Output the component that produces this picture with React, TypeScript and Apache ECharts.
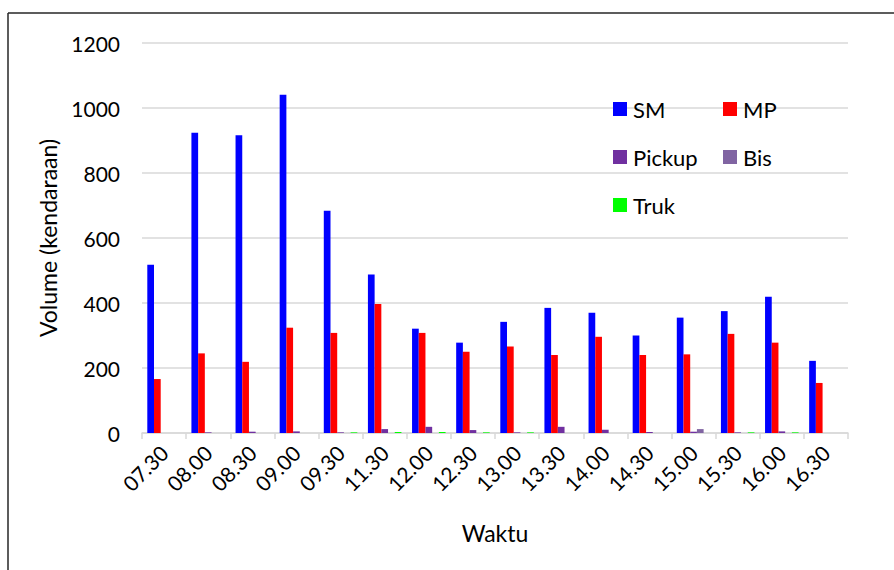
import React, { useEffect, useRef } from "react";
import * as echarts from "echarts";

const categories = ["07.30", "08.00", "08.30", "09.00", "09.30", "11.30", "12.00", "12.30", "13.00", "13.30", "14.00", "14.30", "15.00", "15.30", "16.00", "16.30"];
const smValues = [518, 924, 916, 1041, 684, 488, 321, 278, 342, 385, 370, 300, 355, 375, 419, 222];
const mpValues = [166, 245, 219, 324, 308, 397, 308, 250, 266, 240, 296, 240, 242, 305, 278, 154];
const pickupValues = [0, 2, 4, 5, 2, 12, 19, 9, 2, 19, 10, 3, 4, 2, 5, 0];
const bisValues = [0, 0, 0, 0, 0, 0, 0, 0, 0, 0, 0, 0, 12, 0, 0, 0];
const trukValues = [0, 0, 0, 0, 2, 3, 3, 2, 2, 0, 0, 0, 0, 2, 2, 0];
const yTicks = [0, 200, 400, 600, 800, 1000, 1200];

const seriesNames = ["SM", "MP", "Pickup", "Bis", "Truk"];
const seriesColors = ["#0000FF", "#FF0000", "#7030A0", "#8064A2", "#00FF00"];

const FONT = "Lato";

export default function App() {
  const ref = useRef<HTMLDivElement>(null);
  useEffect(() => {
    if (!ref.current) return;
    const chart = echarts.init(ref.current, null, { renderer: "svg" });
    const datasets = [smValues, mpValues, pickupValues, bisValues, trukValues];
    const legendPos = [
      { left: 613, top: 98 },
      { left: 723, top: 98 },
      { left: 613, top: 146 },
      { left: 723, top: 146 },
      { left: 613, top: 194 },
    ];
    chart.setOption({
      animation: false,
      textStyle: { fontFamily: FONT },
      grid: { left: 142, right: 46, top: 43, bottom: 137, containLabel: false },
      legend: seriesNames.map((n, i) => ({
        data: [n],
        left: legendPos[i].left,
        top: legendPos[i].top,
        padding: 0,
        itemWidth: 14,
        itemHeight: 14,
        itemGap: 7,
        icon: "rect",
        textStyle: { fontFamily: FONT, fontSize: 22, color: "#000", padding: [0, 0, 0, 1] },
      })),
      xAxis: {
        type: "category",
        data: categories,
        name: "Waktu",
        nameLocation: "middle",
        nameGap: 88,
        nameTextStyle: { fontFamily: FONT, fontSize: 23, color: "#000" },
        axisLine: { lineStyle: { color: "#d9d9d9", width: 1.5 } },
        axisTick: { show: true, length: 6, lineStyle: { color: "#d9d9d9", width: 1.5 } },
        axisLabel: { rotate: 45, fontFamily: FONT, fontSize: 21, color: "#000", margin: 16, interval: 0 },
      },
      yAxis: {
        type: "value",
        min: 0,
        max: 1200,
        interval: 200,
        name: "Volume (kendaraan)",
        nameLocation: "middle",
        nameGap: 83,
        nameTextStyle: { fontFamily: FONT, fontSize: 23, color: "#000" },
        axisLine: { show: false },
        axisTick: { show: false },
        axisLabel: {
          fontFamily: FONT,
          fontSize: 21,
          color: "#000",
          margin: 22,
          formatter: (v: number) => (yTicks.includes(v) ? String(v) : ""),
        },
        splitLine: { lineStyle: { color: "#d9d9d9", width: 1.5 } },
      },
      series: seriesNames.map((n, i) => ({
        name: n,
        type: "bar",
        data: datasets[i],
        barGap: "0%",
        barCategoryGap: "24%",
        itemStyle: { color: seriesColors[i] },
      })),
      graphic: [
        { type: "line", shape: { x1: 8, y1: 13, x2: 894, y2: 13 }, style: { stroke: "#262626", lineWidth: 1.5 } },
        { type: "line", shape: { x1: 8, y1: 13, x2: 8, y2: 570 }, style: { stroke: "#262626", lineWidth: 1.5 } },
      ],
    });
    return () => chart.dispose();
  }, []);
  return <div ref={ref} style={{ position: "fixed", left: 0, top: 0, width: 894, height: 570, background: "#fff" }} />;
}
